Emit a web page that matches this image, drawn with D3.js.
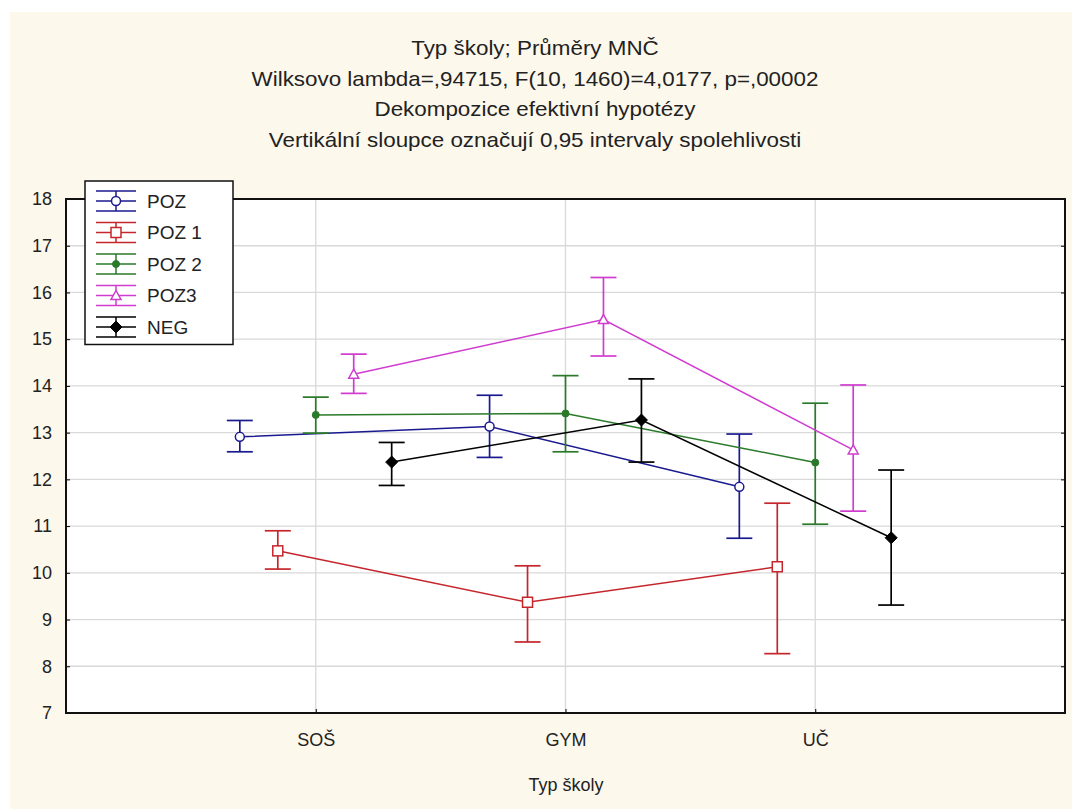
<!DOCTYPE html>
<html><head><meta charset="utf-8">
<script src="https://cdn.jsdelivr.net/npm/d3@7"></script>
<style>
html,body{margin:0;padding:0;background:#fff;}
svg{display:block;}
text{font-family:"Liberation Sans",Arial,sans-serif;fill:#222;}
</style></head>
<body><svg id="c" width="1072" height="809"></svg>
<script>
const titles = ["Typ školy; Průměry MNČ",
  "Wilksovo lambda=,94715, F(10, 1460)=4,0177, p=,00002",
  "Dekompozice efektivní hypotézy",
  "Vertikální sloupce označují 0,95 intervaly spolehlivosti"];
const xTitle = "Typ školy";
const categories = ["SOŠ", "GYM", "UČ"];
const seriesNames = ["POZ", "POZ 1", "POZ 2", "POZ3", "NEG"];
const yTicks = [7, 8, 9, 10, 11, 12, 13, 14, 15, 16, 17, 18];
// means per series, per category (SOŠ, GYM, UČ)
const meanPOZ  = [12.91, 13.13, 11.84];
const meanPOZ1 = [10.47, 9.37, 10.13];
const meanPOZ2 = [13.38, 13.41, 12.36];
const meanPOZ3 = [14.25, 15.42, 12.63];
const meanNEG  = [12.37, 13.27, 10.75];
// lower / upper 0.95 CI
const loPOZ  = [12.59, 12.47, 10.74];
const hiPOZ  = [13.26, 13.80, 12.97];
const loPOZ1 = [10.08, 8.52, 8.27];
const hiPOZ1 = [10.90, 10.15, 11.49];
const loPOZ2 = [12.99, 12.59, 11.04];
const hiPOZ2 = [13.76, 14.22, 13.63];
const loPOZ3 = [13.84, 14.64, 11.32];
const hiPOZ3 = [14.68, 16.32, 14.02];
const loNEG  = [11.87, 12.37, 9.31];
const hiNEG  = [12.79, 14.15, 12.20];

const colors = ["#1a1a90", "#c4262c", "#2a7a2a", "#d03cd0", "#000000"];
const markers = ["circle", "square", "dot", "triangle", "diamond"];
const means = [meanPOZ, meanPOZ1, meanPOZ2, meanPOZ3, meanNEG];
const los = [loPOZ, loPOZ1, loPOZ2, loPOZ3, loNEG];
const his = [hiPOZ, hiPOZ1, hiPOZ2, hiPOZ3, hiNEG];

const svg = d3.select("#c");
svg.append("rect").attr("x",10).attr("y",12).attr("width",1062).attr("height",797).attr("fill","#fdf8ec");

const L=66, R=1065, T=199, B=713;
const x = d3.scaleLinear().domain([0,4]).range([L,R]);
const y = d3.scaleLinear().domain([7,18]).range([B,T]);
const dodge = 0.152;

svg.append("rect").attr("x",L).attr("y",T).attr("width",R-L).attr("height",B-T).attr("fill","#fff");

const g = svg.append("g");
g.selectAll(".hg").data(yTicks.filter(v=>v>7&&v<18)).join("line")
  .attr("x1",L).attr("x2",R).attr("y1",d=>y(d)).attr("y2",d=>y(d))
  .attr("stroke","#d9d9d9").attr("stroke-width",1.3);
g.selectAll(".vg").data(categories).join("line")
  .attr("x1",(d,i)=>x(i+1)).attr("x2",(d,i)=>x(i+1)).attr("y1",T).attr("y2",B)
  .attr("stroke","#d9d9d9").attr("stroke-width",1.3);

const yAxis = d3.axisLeft(y).tickValues(yTicks).tickSize(-4).tickPadding(14).tickFormat(d3.format("d"));
const ya = svg.append("g").attr("transform",`translate(${L},0)`).call(yAxis);
ya.select(".domain").remove();
ya.selectAll("text").attr("font-size",18).attr("fill","#222");
const yAxisR = d3.axisRight(y).tickValues(yTicks).tickSize(-4).tickFormat("");
const yr = svg.append("g").attr("transform",`translate(${R},0)`).call(yAxisR);
yr.select(".domain").remove();
const xAxis = d3.axisBottom(x).tickValues([1,2,3]).tickSize(-4).tickPadding(20).tickFormat(d=>categories[d-1]);
const xa = svg.append("g").attr("transform",`translate(0,${B})`).call(xAxis);
xa.select(".domain").remove();
xa.selectAll("text").attr("font-size",18).attr("fill","#222");

svg.append("rect").attr("x",L).attr("y",T).attr("width",R-L).attr("height",B-T)
  .attr("fill","none").attr("stroke","#111").attr("stroke-width",2);

function drawMarker(sel, type, color, cx, cy){
  if(type==="circle") sel.append("circle").attr("cx",cx).attr("cy",cy).attr("r",4.5).attr("fill","#fff").attr("stroke",color).attr("stroke-width",1.5);
  else if(type==="square") sel.append("rect").attr("x",cx-5).attr("y",cy-5).attr("width",10).attr("height",10).attr("fill","#fff").attr("stroke",color).attr("stroke-width",1.5);
  else if(type==="dot") sel.append("circle").attr("cx",cx).attr("cy",cy).attr("r",3.5).attr("fill",color).attr("stroke",color).attr("stroke-width",1);
  else if(type==="triangle") sel.append("path").attr("d",`M${cx},${cy-5}L${cx+5},${cy+4}L${cx-5},${cy+4}Z`).attr("fill","#fff").attr("stroke",color).attr("stroke-width",1.5);
  else if(type==="diamond") sel.append("path").attr("d",`M${cx},${cy-6}L${cx+6},${cy}L${cx},${cy+6}L${cx-6},${cy}Z`).attr("fill",color).attr("stroke",color).attr("stroke-width",1);
}
const line = d3.line();
seriesNames.forEach((name, s)=>{
  const gs = svg.append("g");
  const pts = categories.map((c,i)=>[x(i+1+(s-2)*dodge), y(means[s][i])]);
  gs.append("path").attr("d",line(pts)).attr("fill","none").attr("stroke",colors[s]).attr("stroke-width",1.5);
  categories.forEach((c,i)=>{
    const cx = x(i+1+(s-2)*dodge);
    gs.append("line").attr("x1",cx).attr("x2",cx).attr("y1",y(los[s][i])).attr("y2",y(his[s][i])).attr("stroke",colors[s]).attr("stroke-width",1.7);
    [los[s][i], his[s][i]].forEach(v=>{
      gs.append("line").attr("x1",cx-13).attr("x2",cx+13).attr("y1",y(v)).attr("y2",y(v)).attr("stroke",colors[s]).attr("stroke-width",1.7);
    });
    drawMarker(gs, markers[s], colors[s], cx, y(means[s][i]));
  });
});

const lg = svg.append("g");
const lgX=85, lgY=181, rowH=31.5;
lg.append("rect").attr("x",lgX).attr("y",lgY).attr("width",148).attr("height",rowH*5+6).attr("fill","#fff").attr("stroke","#111").attr("stroke-width",1.5);
seriesNames.forEach((name,s)=>{
  const cy = lgY+20+s*rowH, cx = lgX+31;
  lg.append("line").attr("x1",cx-20).attr("x2",cx+20).attr("y1",cy).attr("y2",cy).attr("stroke",colors[s]).attr("stroke-width",1.5);
  lg.append("line").attr("x1",cx).attr("x2",cx).attr("y1",cy-10).attr("y2",cy+10).attr("stroke",colors[s]).attr("stroke-width",1.5);
  [cy-10, cy+10].forEach(v=>lg.append("line").attr("x1",cx-20).attr("x2",cx+20).attr("y1",v).attr("y2",v).attr("stroke",colors[s]).attr("stroke-width",1.5));
  drawMarker(lg, markers[s], colors[s], cx, cy);
  lg.append("text").attr("x",lgX+62).attr("y",cy).attr("dy","0.35em").attr("font-size",19).text(name);
});

titles.forEach((t,i)=>{
  svg.append("text").attr("transform",`translate(535,${48+i*30.5}) scale(1.12,1)`)
    .attr("text-anchor","middle").attr("dy","0.35em").attr("font-size",20).text(t);
});
svg.append("text").attr("x",566).attr("y",785).attr("text-anchor","middle").attr("dy","0.35em").attr("font-size",18).text(xTitle);
</script></body></html>
